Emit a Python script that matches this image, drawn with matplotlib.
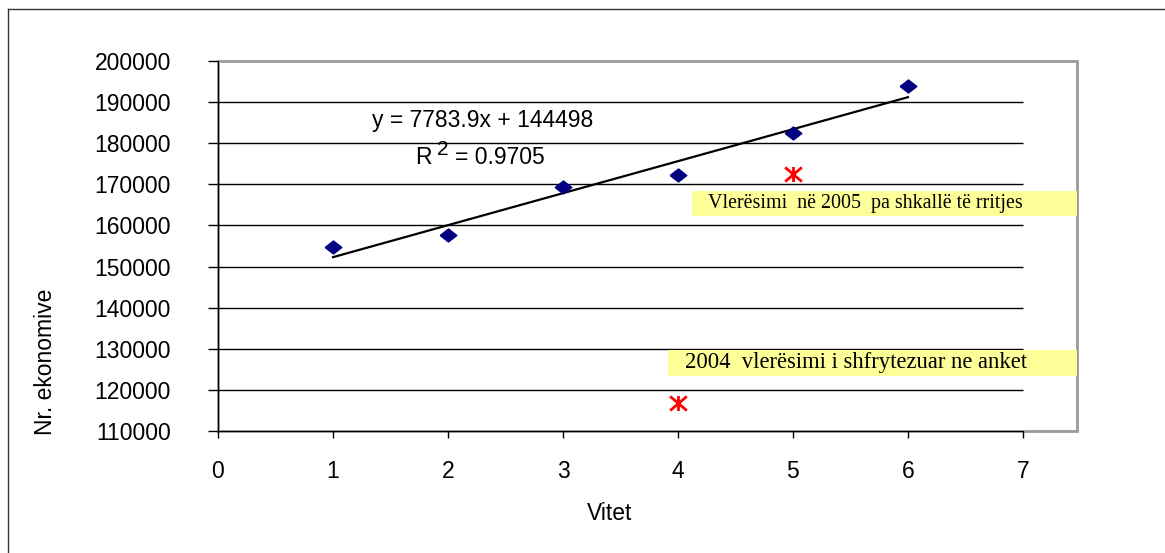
import matplotlib
matplotlib.use('Agg')
import matplotlib.pyplot as plt
import numpy as np
from matplotlib.patches import Rectangle
from matplotlib.lines import Line2D
from matplotlib.path import Path

# te dhenat
vitet = [1, 2, 3, 4, 5, 6]
ekonomite = [154800, 157700, 169400, 172300, 182600, 193800]
vleresim_x = [5, 4]
vleresim_y = [172400, 116800]
slope, intercept = 7783.9, 144498
r2 = 0.9705
xticks = [0, 1, 2, 3, 4, 5, 6, 7]
yticks = list(range(110000, 200001, 10000))

plt.rcParams['font.family'] = ['Liberation Sans', 'DejaVu Sans']
fs = 16.5

fig = plt.figure(figsize=(11.65, 5.53), dpi=100)
ax = fig.add_axes([218 / 1165, 122 / 553, 859 / 1165, 370 / 553])

# vijat e rrjetes
ax.hlines(yticks[1:-1], 0, 7, color='black', lw=1, zorder=1)

# trendi
xl = np.array([vitet[0], vitet[-1]])
ax.plot(xl, slope * xl + intercept, color='black', lw=1.6, zorder=3)

# diamante
diamond = [(-1, 0), (0, 0.78), (1, 0), (0, -0.78), (-1, 0)]
ax.plot(vitet, ekonomite, linestyle='none', marker=diamond, markersize=12,
        color='#000080', zorder=4)

# yje te kuq
star = Path([(-1, -0.85), (1, 0.85), (-1, 0.85), (1, -0.85), (0, -0.9), (0, 0.9)],
            [Path.MOVETO, Path.LINETO, Path.MOVETO, Path.LINETO, Path.MOVETO, Path.LINETO])
ax.plot(vleresim_x, vleresim_y, linestyle='none', marker=star, markersize=12,
        markeredgewidth=2, color='#ff0000', zorder=4)

ax.set_xlim(0, 7.47)
ax.set_ylim(110000, 200000)
ax.set_xticks(xticks)
ax.set_yticks(yticks)
ax.tick_params(axis='y', direction='out', length=7, width=1, pad=27, labelsize=fs)
ax.tick_params(axis='x', direction='out', length=5, width=1, pad=16, labelsize=fs)

for s in ['top', 'right']:
    ax.spines[s].set_visible(False)
ax.spines['bottom'].set_bounds(0, 7)
ax.spines['left'].set_color('black')
ax.spines['bottom'].set_color('black')
ax.add_patch(Rectangle((0, 0), 1, 1, transform=ax.transAxes, fill=False,
                       edgecolor='#999999', lw=2, zorder=0, clip_on=False))

# ekuacioni
ax.text(0.1793, 0.8405, 'y = 7783.9x + 144498', transform=ax.transAxes,
        fontsize=fs, va='center', ha='left')
ax.text(0.2293, 0.7405, 'R', transform=ax.transAxes, fontsize=fs, va='center', ha='left')
ax.text(0.2545, 0.7595, '2', transform=ax.transAxes, fontsize=fs - 1.5, va='center', ha='left')
ax.text(0.2759, 0.7405, '= {:.4f}'.format(r2), transform=ax.transAxes, fontsize=fs,
        va='center', ha='left')

# kutite e verdha
ax.add_patch(Rectangle((0.5518, 0.581), 0.4482, 0.0676, transform=ax.transAxes,
                       facecolor='#ffff99', edgecolor='none', zorder=2))
ax.text(0.5704, 0.615, 'Vlerësimi  në 2005  pa shkallë të rritjes', transform=ax.transAxes,
        fontsize=14.4, family='Liberation Serif', va='center', ha='left', zorder=5)
ax.add_patch(Rectangle((0.5239, 0.1486), 0.4761, 0.0703, transform=ax.transAxes,
                       facecolor='#ffff99', edgecolor='none', zorder=2))
ax.text(0.5437, 0.1838, '2004  vlerësimi i shfrytezuar ne anket', transform=ax.transAxes,
        fontsize=16.3, family='Liberation Serif', va='center', ha='left', zorder=5)

fig.text(45 / 1165, (553 - 362) / 553, 'Nr. ekonomive', rotation=90, fontsize=fs,
         ha='center', va='center')
fig.text(610 / 1165, (553 - 513) / 553, 'Vitet', fontsize=fs, ha='center', va='center')

# kufiri i figures
fig.add_artist(Line2D([8 / 1165, 8 / 1165], [0, 1 - 9 / 553], transform=fig.transFigure,
                      color='#333333', lw=1))
fig.add_artist(Line2D([8 / 1165, 1], [1 - 9 / 553, 1 - 9 / 553], transform=fig.transFigure,
                      color='#333333', lw=1))

fig.savefig('out.png', dpi=100)
